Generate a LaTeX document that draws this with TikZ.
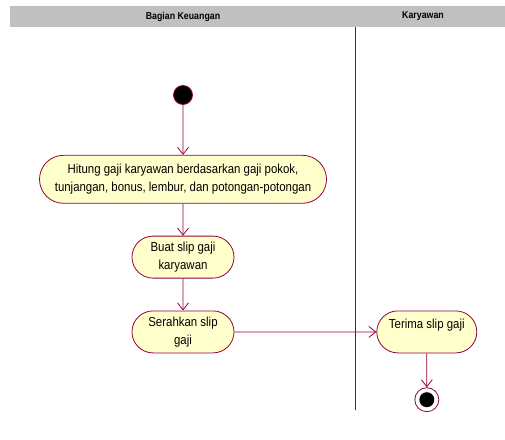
\documentclass[tikz,border=0pt]{standalone}
\usepackage{fontspec}
\setmainfont{Liberation Sans}[FakeStretch=0.88]
\usetikzlibrary{shapes.misc, shapes.geometric, arrows.meta, positioning}
\definecolor{umlred}{RGB}{150,0,60}
\definecolor{umlfill}{RGB}{255,255,204}
\definecolor{lanegray}{RGB}{192,192,192}
\tikzset{
  % Activity (rounded ends)
  activity/.style={
    rounded rectangle, draw=umlred, fill=umlfill, line width=0.8pt,
    align=center, font=\fontsize{13}{17.5}\selectfont,
    minimum height=42pt, inner xsep=4pt
  },
  flowarrow/.style={-{Straight Barb[length=7pt, width=11pt]}, line width=0.8pt, color=umlred},
  startdot/.style={circle, fill=black, draw=umlred, minimum size=19pt, inner sep=0pt, line width=0.8pt},
  endring/.style={circle, draw=umlred, fill=white, minimum size=24pt, inner sep=0pt, line width=0.8pt},
  enddot/.style={circle, fill=black, minimum size=15pt, inner sep=0pt},
  lanehead/.style={font=\fontsize{10}{12}\selectfont\bfseries},
  laneline/.style={draw=umlred, line width=0.8pt}
}
\begin{document}
\begin{tikzpicture}[x=1pt, y=1pt, node distance=32pt]
  \useasboundingbox (0,0) rectangle (505,-439);

  % Swimlane header
  \fill[lanegray] (10,-6) rectangle (505,-27);
  \node[lanehead] (keu) at (183,-16.5) {Bagian Keuangan};
  \node[lanehead] (kar) at (423,-16.5) {Karyawan};

  % Lane divider
  \coordinate (ltop) at (355,-27);
  \coordinate (lbot) at (355,-410);
  \draw[laneline] (ltop) -- (lbot);

  % Start
  \node[startdot] (start) at (183,-95) {};

  % Activities in Bagian Keuangan
  \node[activity, minimum width=295pt, minimum height=48pt, below=50pt of start] (hitung)
    {Hitung gaji karyawan berdasarkan gaji pokok,\\tunjangan, bonus, lembur, dan potongan-potongan};
  \node[activity, minimum width=110pt, below=of hitung] (buat) {Buat slip gaji\\karyawan};
  \node[activity, minimum width=110pt, below=of buat] (serah) {Serahkan slip\\gaji};

  % Activity in Karyawan
  \node[activity, minimum width=108pt, text depth=17pt, right=142pt of serah] (terima) {Terima slip gaji};

  % End
  \node[endring, below=34pt of terima] (finish) {};
  \node[enddot] (finishdot) at (finish) {};

  % Arrows
  \draw[flowarrow] (start) -- (hitung);
  \draw[flowarrow] (hitung) -- (buat);
  \draw[flowarrow] (buat) -- (serah);
  \draw[flowarrow] (serah) -- (terima);
  \draw[flowarrow] (terima) -- (finish);
\end{tikzpicture}
\end{document}
